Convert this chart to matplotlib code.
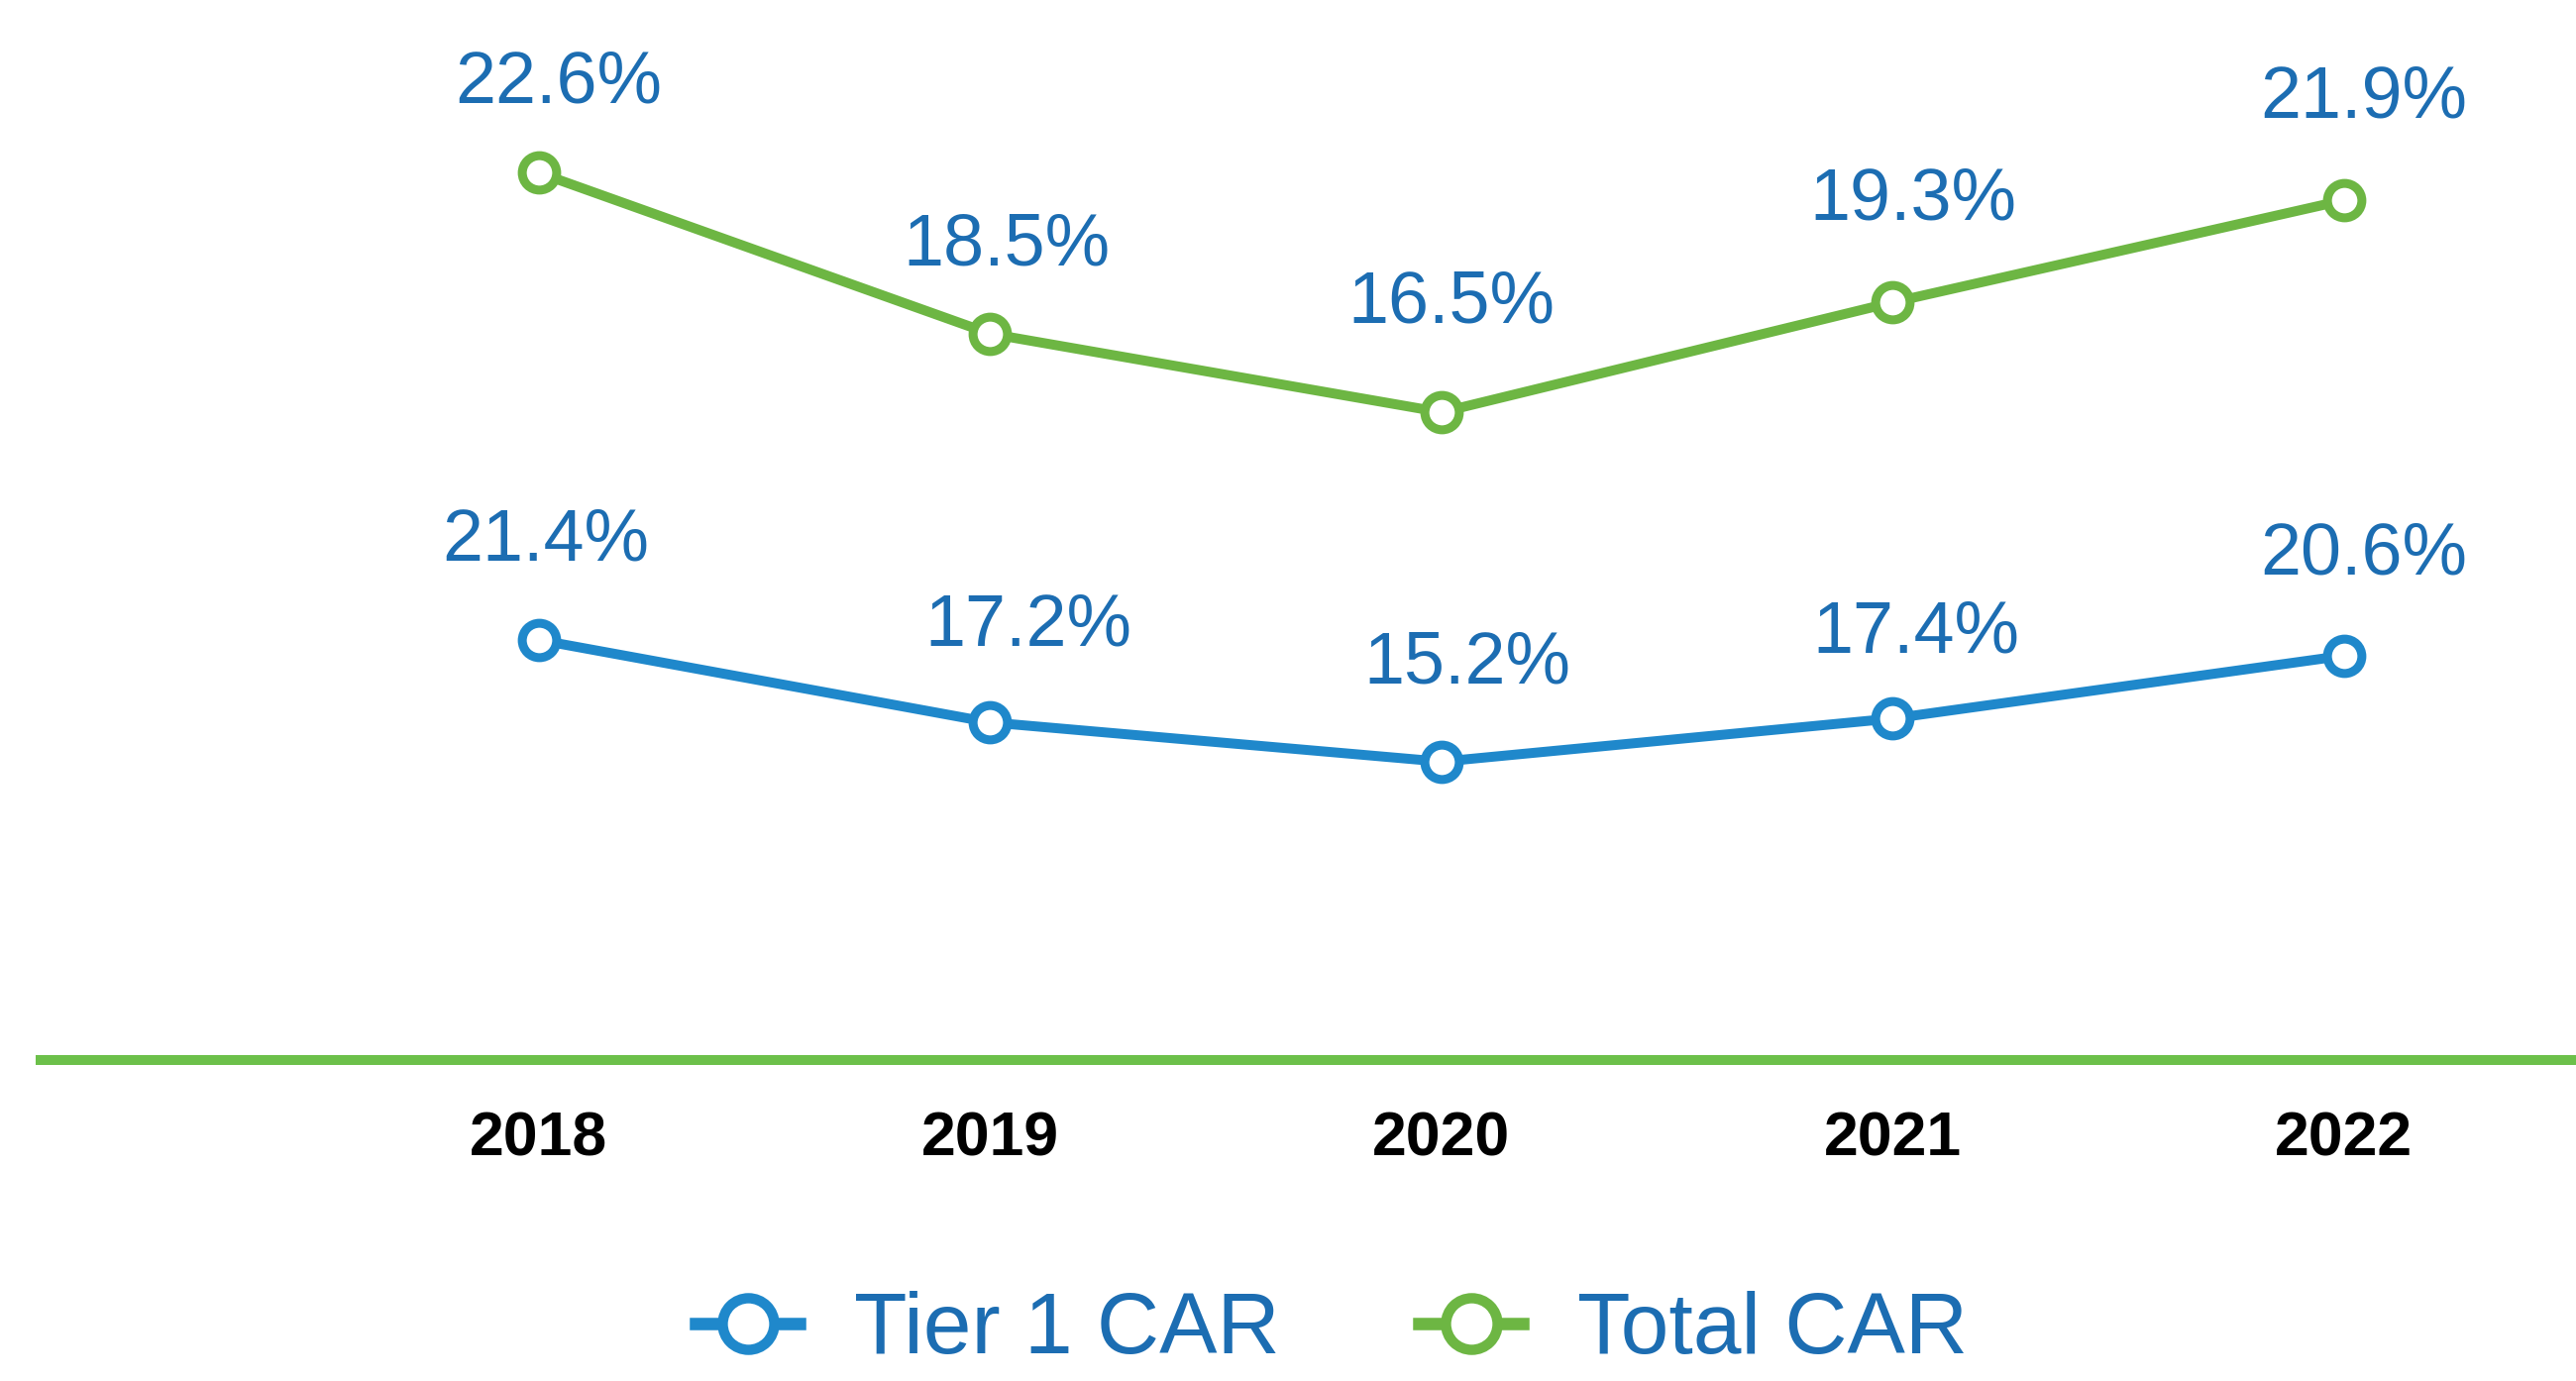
import numpy as np
import matplotlib.pyplot as plt
from matplotlib.lines import Line2D

plt.rcParams['font.family'] = ['Liberation Sans', 'DejaVu Sans']

# data ------------------------------------------------
years = ['2018', '2019', '2020', '2021', '2022']
tier1_car = [21.4, 17.2, 15.2, 17.4, 20.6]
total_car = [22.6, 18.5, 16.5, 19.3, 21.9]

# colours
blue = '#1f88cb'
green = '#6db643'
axis_green = '#6cc04a'
label_blue = '#1c6db2'

# label offsets (points) so they sit like the original
tier1_dx = [5, 28, 19, 17, 14]
tier1_dy = [72, 70, 71, 62, 73]
total_dx = [14, 12, 7, 15, 14]
total_dy = [65, 64, 79, 74, 74]

x = np.arange(len(years))

fig = plt.figure(figsize=(26, 13.94), dpi=100)
ax = fig.add_axes([41 / 2600, 0.2324, 1 - 41 / 2600, 1 - 0.2324])
ax2 = ax.twinx()

# total CAR on left scale, tier 1 on the secondary scale
ax.plot(x, total_car, '-o', color=green, lw=7.2, markersize=25, markeredgewidth=6.5,
        markerfacecolor='white', markeredgecolor=green, zorder=3)
ax2.plot(x, tier1_car, '-o', color=blue, lw=7.2, markersize=25, markeredgewidth=6.5,
         markerfacecolor='white', markeredgecolor=blue, zorder=3)

ax.set_xlim(-1.104, 4.514)
ax.set_ylim(0, 27.0)
ax2.set_ylim(0, 54.0)

for i, v in enumerate(total_car):
    ax.annotate(f'{v}%', (x[i], v), xytext=(total_dx[i], total_dy[i]), textcoords='offset points',
                ha='center', va='center', fontsize=53, color=label_blue)
for i, v in enumerate(tier1_car):
    ax2.annotate(f'{v}%', (x[i], v), xytext=(tier1_dx[i], tier1_dy[i]), textcoords='offset points',
                 ha='center', va='center', fontsize=53, color=label_blue)

for a in (ax, ax2):
    for s in ['top', 'left', 'right']:
        a.spines[s].set_visible(False)
    a.set_yticks([])
ax2.spines['bottom'].set_visible(False)
ax.spines['bottom'].set_color(axis_green)
ax.spines['bottom'].set_linewidth(7.2)

ax.set_xticks(x)
ax.set_xticklabels(years, fontsize=45, fontweight='bold', color='black')
ax.tick_params(axis='x', length=0, pad=36)

# legend
handles = [
    Line2D([], [], color=blue, lw=9, marker='o', markersize=25, markeredgewidth=7.5,
           markerfacecolor='white', markeredgecolor=blue),
    Line2D([], [], color=green, lw=9, marker='o', markersize=25, markeredgewidth=7.5,
           markerfacecolor='white', markeredgecolor=green),
]
leg = fig.legend(handles, ['Tier 1 CAR', 'Total CAR'], loc='center', bbox_to_anchor=(0.517, 0.036),
                 ncol=2, frameon=False, fontsize=63, handlelength=1.2, handletextpad=0.63,
                 columnspacing=1.6, markerscale=1.5)
for t in leg.get_texts():
    t.set_color(label_blue)

plt.savefig('out.png', dpi=100)
